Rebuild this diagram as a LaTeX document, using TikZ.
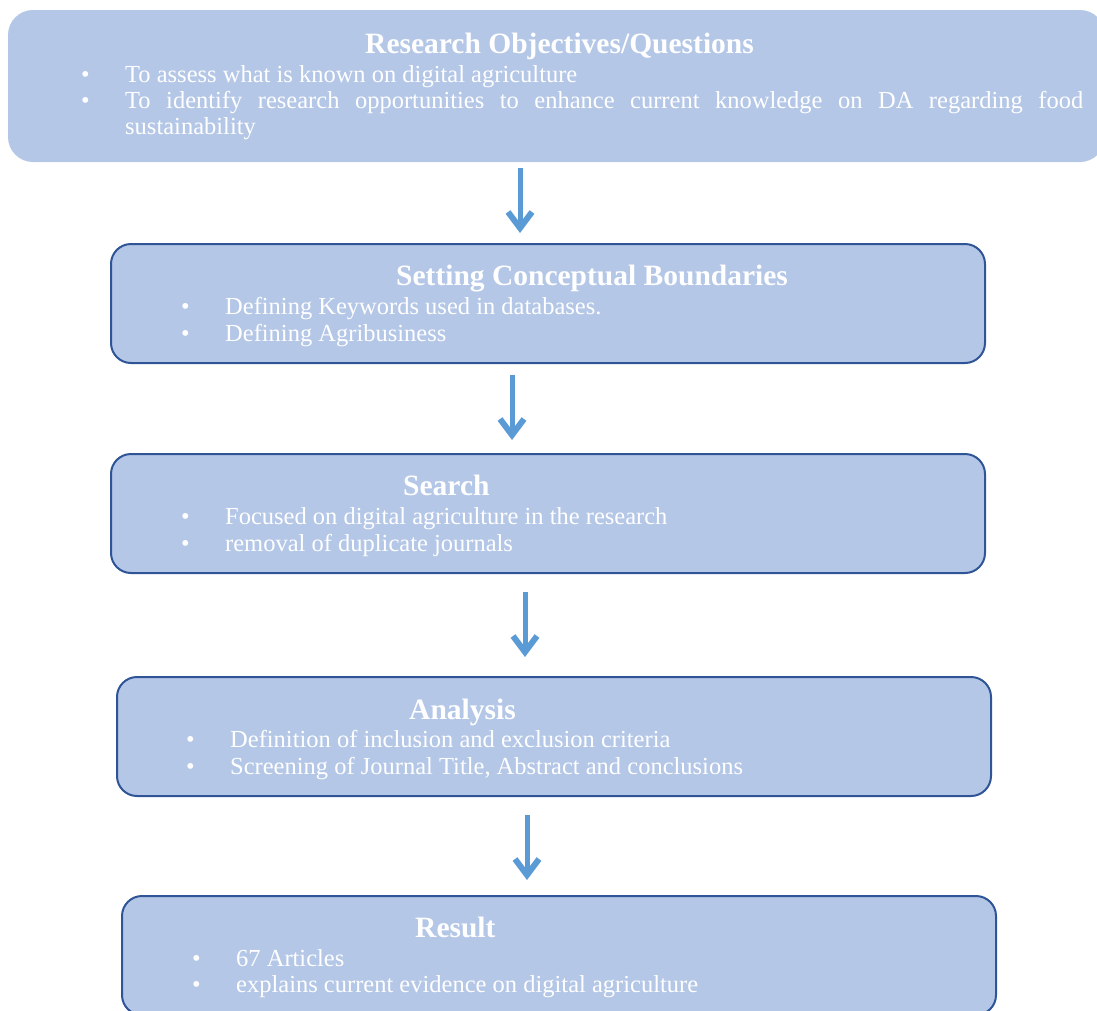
\documentclass[tikz,border=0pt]{standalone}
\usepackage{fontspec}
\setmainfont{Liberation Serif}
\usetikzlibrary{arrows.meta}
\definecolor{boxfill}{HTML}{B4C7E7}
\definecolor{boxline}{HTML}{2F5597}
\definecolor{arrowblue}{HTML}{5B9BD5}
\tikzset{
  stage/.style={draw=boxline, line width=2pt, fill=boxfill, rounded corners=20pt, minimum width=874pt, minimum height=119pt, inner sep=0pt},
  headtext/.style={anchor=base west, inner sep=0pt, text=white, font=\fontsize{29.5}{32}\selectfont\bfseries},
  bodytext/.style={anchor=base west, inner sep=0pt, text=white, font=\fontsize{24.5}{27}\selectfont},
  flowarrow/.style={draw=arrowblue, line width=5pt, -{Straight Barb[length=16pt,width=24pt,line width=6pt]}}
}
\begin{document}
\begin{tikzpicture}[x=1pt,y=-1pt]
  \useasboundingbox (0,0) rectangle (1097,1010);
  \clip (0,0) rectangle (1097,1010);
  % boxes
  \node[stage, draw=none, minimum width=1097pt, minimum height=152pt, rounded corners=25pt] (box1) at (556.5,86) {};
  \node[stage] (box2) at (548,303.5) {};
  \node[stage] (box3) at (548,513.5) {};
  \node[stage] (box4) at (554,736.5) {};
  \node[stage] (box5) at (559,955.5) {};

  % research objectives
  \node[headtext] (t1) at (365,53) {Research Objectives/Questions};
  \node[bodytext] (b1a) at (81,82) {•};
  \node[bodytext] (l1a) at (125,82) {To assess what is known on digital agriculture};
  \node[bodytext] (b1b) at (81,108) {•};
  \node[bodytext] (l1b) at (125,108) {\makebox[958pt][s]{To identify research opportunities to enhance current knowledge on DA regarding food}};
  \node[bodytext] (l1c) at (125,134) {sustainability};

  % conceptual boundaries
  \node[headtext] (t2) at (396,285) {Setting Conceptual Boundaries};
  \node[bodytext] (b2a) at (181,314) {•};
  \node[bodytext] (l2a) at (225,314) {Defining Keywords used in databases.};
  \node[bodytext] (b2b) at (181,341) {•};
  \node[bodytext] (l2b) at (225,341) {Defining Agribusiness};

  % search
  \node[headtext] (t3) at (403,495) {Search};
  \node[bodytext] (b3a) at (181,524) {•};
  \node[bodytext] (l3a) at (225,524) {Focused on digital agriculture in the research};
  \node[bodytext] (b3b) at (181,551) {•};
  \node[bodytext] (l3b) at (225,551) {removal of duplicate journals};

  % analysis
  \node[headtext] (t4) at (409,719) {Analysis};
  \node[bodytext] (b4a) at (186,747) {•};
  \node[bodytext] (l4a) at (230,747) {Definition of inclusion and exclusion criteria};
  \node[bodytext] (b4b) at (186,774) {•};
  \node[bodytext] (l4b) at (230,774) {Screening of Journal Title, Abstract and conclusions};

  % result
  \node[headtext] (t5) at (415,937) {Result};
  \node[bodytext] (b5a) at (192,966) {•};
  \node[bodytext] (l5a) at (236,966) {67 Articles};
  \node[bodytext] (b5b) at (192,992) {•};
  \node[bodytext] (l5b) at (236,992) {explains current evidence on digital agriculture};

  % arrows
  \foreach \i/\x/\ya/\yb in {1/520/168/233, 2/512/375/440, 3/525/592/657, 4/527/815/880} {
    \coordinate (s\i) at (\x,\ya);
    \coordinate (e\i) at (\x,\yb);
    \draw[flowarrow] (s\i) -- (e\i);
  }
\end{tikzpicture}
\end{document}
